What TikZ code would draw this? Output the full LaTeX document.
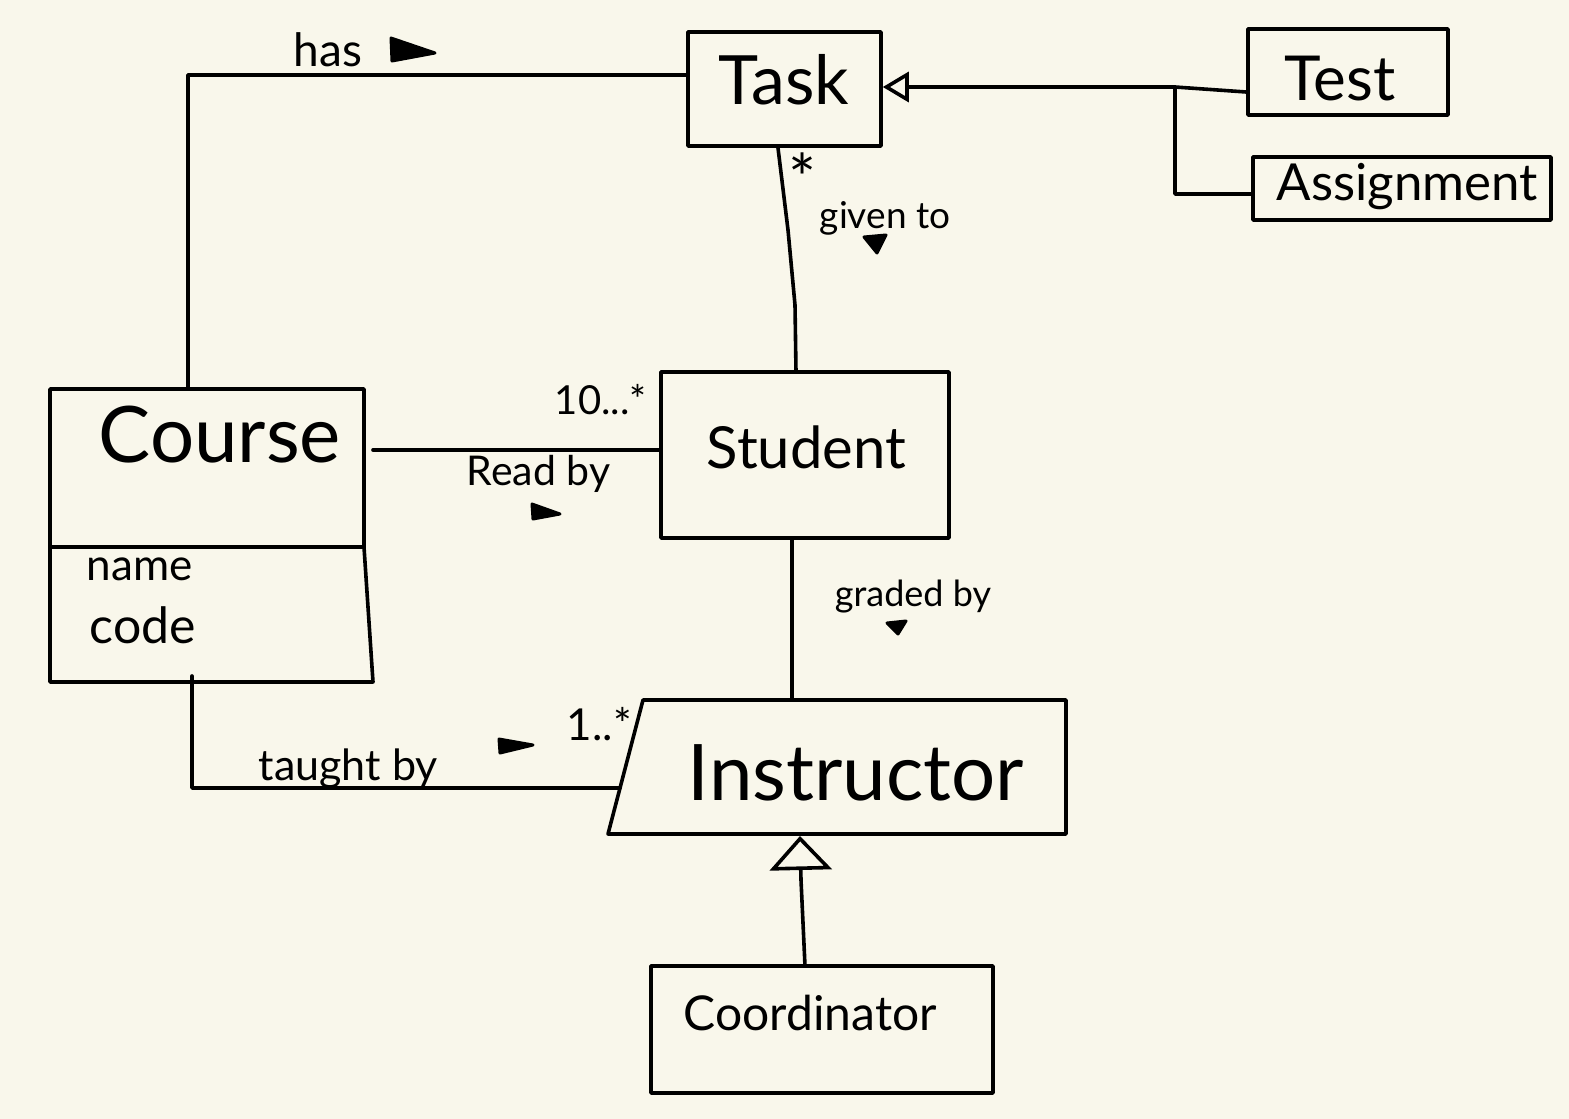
\documentclass[tikz,border=0pt]{standalone}
\usepackage{fontspec}
\setmainfont{Lato}
\usetikzlibrary{arrows.meta}
\definecolor{paper}{RGB}{249,247,235}
\newcommand{\fs}[1]{\fontsize{#1pt}{#1pt}\selectfont}
\begin{document}
\begin{tikzpicture}[x=1pt,y=-1pt,line width=3.6pt,line join=round,line cap=round,
  box/.style={draw,rectangle,inner sep=0pt},
  txt/.style={inner sep=0pt,anchor=base west},
  tip/.style={fill=black,line width=3pt,draw=black}]
\fill[paper] (0,0) rectangle (1569,1119);
\useasboundingbox (0,0) rectangle (1569,1119);

% boxes
\node[box,minimum width=193pt,minimum height=114pt] (task) at (784.5,89) {};
\node[box,minimum width=200pt,minimum height=86pt] (test) at (1348,72) {};
\node[box,minimum width=298pt,minimum height=63pt] (assign) at (1402,188.5) {};
\node[box,minimum width=288pt,minimum height=166pt] (student) at (805,455) {};
\node[box,minimum width=342pt,minimum height=127pt] (coord) at (822,1029.5) {};

% Course (two compartments, slanted lower right edge)
\node[inner sep=0pt,minimum width=314pt,minimum height=293pt] (course) at (207,535.5) {};
\draw (50,389) -- (364,389) -- (364,547) -- (373,682) -- (50,682) -- cycle;
\draw (50,547) -- (364,547);

% Instructor (parallelogram-like)
\node[inner sep=0pt,minimum width=458pt,minimum height=134pt] (instr) at (837,767) {};
\draw (643,700) -- (1066,700) -- (1066,834) -- (608,834) -- cycle;

% texts
\node[txt] (tTask) at (717,104) {\fs{68}Task};
\node[txt] (tTest) at (1283,100) {\fs{62}Test};
\node[txt] (tAssign) at (1275,200) {\fs{51}Assignment};
\node[txt] (tCourse) at (97,462) {\fs{78}Course};
\node[txt] (tName) at (85,580) {\fs{44}name};
\node[txt] (tCode) at (88,643) {\fs{50}code};
\node[txt] (tStudent) at (705,468) {\fs{58}Student};
\node[txt] (tInstr) at (686,800) {\fs{78}Instructor};
\node[txt] (tCoord) at (682,1030) {\fs{48}Coordinator};

% connectors
\coordinate (hasA) at (188,389);
\coordinate (hasB) at (686,75);
\draw (hasA) |- (hasB);
\node[txt] (lHas) at (292,66) {\fs{46}has};
\fill[tip] (391,38) -- (435,53) -- (392,61) -- cycle;

\coordinate (gA) at (778,148);
\coordinate (gB) at (796,372);
\draw (gA) -- (788,230) -- (795,305) -- (gB);
\node[inner sep=0pt] (mStar) at (803,178) {\fs{66}*};
\node[txt] (lGiven) at (818,228) {\fs{37}given to};
\fill[tip] (864,237) -- (886,235) -- (877,253) -- cycle;

\coordinate (rA) at (373,450);
\coordinate (rB) at (661,450);
\draw (rA) -- (rB);
\node[txt] (mTen) at (553,414) {\fs{40}10...*};
\node[txt] (lRead) at (465,485) {\fs{41}Read by};
\fill[tip] (532,504) -- (560,514) -- (533,519) -- cycle;

\coordinate (grA) at (792,538);
\coordinate (grB) at (792,700);
\draw (grA) -- (grB);
\node[txt] (lGraded) at (833,606) {\fs{36}graded by};
\fill[tip] (887,623) -- (906,621) -- (898,634) -- cycle;

\coordinate (tbA) at (192,676);
\coordinate (tbB) at (620,788);
\draw (tbA) |- (tbB);
\node[txt] (lTaught) at (257,780) {\fs{43}taught by};
\fill[tip] (499,739) -- (533,745) -- (500,753) -- cycle;
\node[txt] (mOne) at (565,740) {\fs{44}1..*};

% generalizations
\coordinate (jn) at (1175,87);
\draw[-{Triangle[open,length=26pt,width=30pt]}] (test.west |- 0,92) -- (jn) -- (task.east |- jn);
\draw (assign.west |- 0,194) -- (1175,194) -- (jn);
\coordinate (cA) at (805,966);
\draw[-{Triangle[open,length=34pt,width=62pt]}] (cA) -- (801,880) -- (800,836);
\end{tikzpicture}
\end{document}
